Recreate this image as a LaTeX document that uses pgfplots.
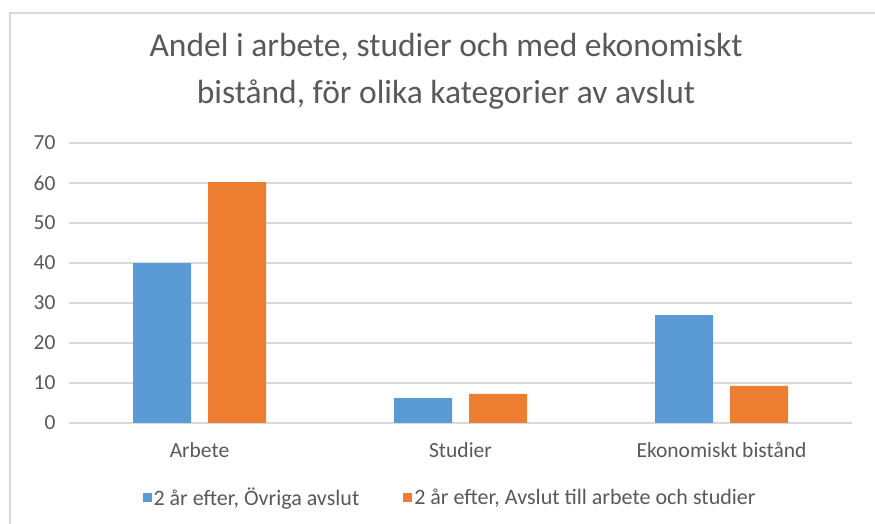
\documentclass[border=0pt]{standalone}
\usepackage{pgfplots}
\pgfplotsset{compat=1.18}
\usepackage{fontspec}
\setmainfont{Carlito}
\definecolor{xlblue}{HTML}{5B9BD5}
\definecolor{xlorange}{HTML}{ED7D31}
\definecolor{xltext}{HTML}{595959}
\definecolor{xlgrid}{HTML}{D9D9D9}
\begin{document}
\begin{tikzpicture}
\path[use as bounding box] (0bp,0bp) rectangle (875bp,524bp);
% chart frame (only left and top edges visible)
\draw[xlgrid, line width=1.5bp] (10bp,0bp) -- (10bp,511bp) -- (875bp,511bp);
\node[align=center, font=\fontsize{33.5bp}{47bp}\selectfont, text=xltext] at (446bp,453bp) {Andel i arbete, studier och med ekonomiskt\\bistånd, för olika kategorier av avslut};
\begin{axis}[
    at={(69bp,101bp)}, anchor=south west,
    scale only axis, width=783bp, height=280bp,
    ybar=17bp, bar width=58bp,
    xmin=-0.5, xmax=2.5, ymin=0, ymax=70,
    xtick=data, xticklabels={Arbete, Studier, Ekonomiskt bistånd},
    ytick={0,10,...,70},
    major tick length=0pt,
    axis line style={draw=none},
    ymajorgrids, grid style={xlgrid, line width=1.5bp},
    tick label style={font=\fontsize{21.5bp}{26bp}\selectfont, text=xltext},
    /pgf/number format/assume math mode=true,
    yticklabel style={xshift=-10bp},
    xticklabel style={yshift=-16bp},
    legend style={at={(0.4866,-0.267)}, anchor=center, draw=none,
        font=\fontsize{22bp}{26bp}\selectfont, text=xltext,
        legend columns=2,
        /tikz/every even column/.append style={column sep=42bp}},
    legend image code/.code={\fill[#1] (-4bp,-4.5bp) rectangle (5bp,4.5bp);},
]
\addplot[fill=xlblue, draw=none] coordinates {(0,40) (1,6.2) (2,27)};
\addplot[fill=xlorange, draw=none] coordinates {(0,60.2) (1,7.3) (2,9.3)};
\legend{{2 år efter, Övriga avslut}, {2 år efter, Avslut till arbete och studier}}
\end{axis}
\end{tikzpicture}
\end{document}
